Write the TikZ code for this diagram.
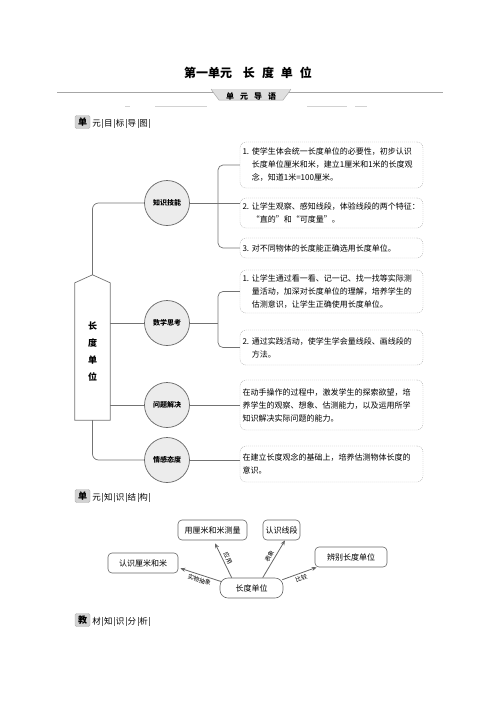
\documentclass[tikz,border=0pt]{standalone}
\usepackage{fontspec}
\newfontfamily\cjk{Noto Sans CJK SC}
\usetikzlibrary{arrows.meta,calc}
\newcommand\hind{\hphantom{1.\ }}
\newcommand\mysep{\,{\color{gray!80!black}\rule[-1.5pt]{0.4pt}{9pt}}\,}
\begin{document}
\begin{tikzpicture}[x=1pt,y=-1pt,
  conn/.style={draw=gray!90!black, line width=0.7pt},
  goal/.style={draw=gray!70, dash pattern=on 1pt off 1pt, rounded corners=6pt,
    minimum width=183pt, text width=178pt, inner xsep=2.5pt, inner ysep=2pt, align=left,
    font=\cjk\fontsize{8}{13}\selectfont},
  topic/.style={circle, draw=gray!80!black, line width=0.7pt, fill=gray!15, minimum size=45pt,
    inner sep=0pt, font=\cjk\bfseries\fontsize{7}{8}\selectfont},
  cbox/.style={draw=gray!80!black, rounded corners=4pt, line width=0.6pt,
    font=\cjk\fontsize{8}{9}\selectfont, inner sep=0pt, minimum height=20pt},
  lab/.style={font=\cjk\fontsize{6}{7}\selectfont, sloped, inner sep=2pt},
  arr/.style={draw=gray!80!black, line width=0.8pt, -{Stealth[length=5pt,width=4pt]}},
  icon/.style={draw=gray!60, fill=gray!35, rounded corners=1.5pt, minimum width=15pt,
    minimum height=13pt, inner sep=0pt, font=\cjk\bfseries\fontsize{9}{10}\selectfont},
  head/.style={anchor=west, inner sep=1pt, font=\cjk\fontsize{8.5}{10}\selectfont},
]
\useasboundingbox (0,0) rectangle (496,702);

% title
\node[font=\cjk\bfseries\fontsize{12}{14}\selectfont] (title) at (248,73)
  {第一单元\hspace{11pt}长\hspace{7pt}度\hspace{7pt}单\hspace{7pt}位};

% banner
\draw[gray!70, line width=0.5pt] (57,92) -- (443,92);
\draw[draw=gray!70, fill=gray!25, line width=0.5pt] (211,89) -- (213,92) -- (219,100) -- (283,100) -- (289,92) -- (291,89);
\node[font=\cjk\bfseries\fontsize{8}{9}\selectfont] (banner) at (251,96)
  {单\hspace{6pt}元\hspace{6pt}导\hspace{6pt}语};
\draw[gray!35, line width=0.8pt] (125,106) -- (130,106) (155,106) -- (207,106)
  (307,106) -- (347,106) (355,106) -- (367,106);

% section header 1
\node[icon] (h1) at (82.5,122) {单};
\node[head] (h1t) at ([xshift=1pt,yshift=-1pt]h1.east) {元\mysep 目\mysep 标\mysep 导\mysep 图\mysep};

% root
\node[minimum width=35pt, minimum height=137pt, inner sep=0pt, align=center,
  font=\cjk\bfseries\fontsize{9}{17}\selectfont] (root) at (92.5,351.5) {长\\度\\单\\位};
\coordinate (apex) at ([yshift=8pt]root.north);
\draw[conn] (root.south west) -- (root.north west) -- (apex) -- (root.north east) -- (root.south east) -- cycle;

% topics
\node[topic] (kc) at (167,203) {知识技能};
\node[topic] (mc) at (167,323) {数学思考};
\node[topic] (pc) at (167,405) {问题解决};
\node[topic] (qc) at (167,460) {情感态度};

% goal boxes
\node[goal, minimum height=46pt] (k1) at (331.5,165)
  {1.\ 使学生体会统一长度单位的必要性，初步认识\\\hind 长度单位厘米和米，建立1厘米和1米的长度观\\\hind 念，知道1米=100厘米。};
\node[goal, minimum height=30pt] (k2) at (331.5,213)
  {\mbox{2.\ 让学生观察、感知线段，体验线段的两个特征：}\\\hind “直的”和“可度量”。};
\node[goal, minimum height=20pt] (k3) at (331.5,248)
  {3.\ 对不同物体的长度能正确选用长度单位。};
\node[goal, minimum height=43pt] (m1) at (331.5,291.5)
  {1.\ 让学生通过看一看、记一记、找一找等实际测\\\hind 量活动，加深对长度单位的理解，培养学生的\\\hind 估测意识，让学生正确使用长度单位。};
\node[goal, minimum height=35pt] (m2) at (331.5,347.5)
  {2.\ 通过实践活动，使学生学会量线段、画线段的\\\hind 方法。};
\node[goal, minimum height=50pt] (p1) at (331.5,405)
  {在动手操作的过程中，激发学生的探索欲望，培\\养学生的观察、想象、估测能力，以及运用所学\\知识解决实际问题的能力。};
\node[goal, minimum height=36pt] (q1) at (331.5,464)
  {在建立长度观念的基础上，培养估测物体长度的\\意识。};

% connectors of the goal map
\coordinate (bx) at (218,0);
\draw[conn, rounded corners=6pt] (apex) |- (kc.west);
\draw[conn] (mc.west -| root.east) -- (mc.west);
\draw[conn] (pc.west -| root.east) -- (pc.west);
\draw[conn, rounded corners=6pt] (root.south) |- (qc.west);
\draw[conn] (kc.east) -- (kc.east -| k2.west);
\draw[conn, rounded corners=5pt] (k1.west) -- (k1.west -| bx) -- (k3.west -| bx) -- (k3.west);
\draw[conn] (mc.east) -- (mc.east -| bx);
\draw[conn, rounded corners=5pt] (m1.west) -- (m1.west -| bx) -- (m2.west -| bx) -- (m2.west);
\draw[conn] (pc.east) -- (pc.east -| p1.west);
\draw[conn] (qc.east) -- (qc.east -| q1.west);

% section header 2
\node[icon] (h2) at (82.5,496) {单};
\node[head] (h2t) at ([xshift=1pt,yshift=-1pt]h2.east) {元\mysep 知\mysep 识\mysep 结\mysep 构\mysep};

% concept map
\node[cbox, minimum width=70pt] (n1) at (143,563) {认识厘米和米};
\node[cbox, minimum width=69pt] (n2) at (212.5,530) {用厘米和米测量};
\node[cbox, minimum width=37pt] (n3) at (281.5,530) {认识线段};
\node[cbox, minimum width=72pt] (n4) at (351,557) {辨别长度单位};
\node[cbox, minimum width=63pt, rounded corners=8pt] (c) at (251.5,588) {长度单位};

\draw[arr] ([shift={(2,4)}]c.north west) -- node[lab, below] {实物抽象} ([shift={(2,-5)}]n1.south east);
\draw[arr] ([shift={(12,0)}]c.north west) -- node[lab, above] {应用} ([shift={(2.5,3)}]n2.south);
\draw[arr] ([shift={(43,0)}]c.north west) -- node[lab, above] {表象} ([shift={(3.5,0)}]n3.south);
\draw[arr] ([shift={(-1,2)}]c.north east) -- node[lab, below] {比较} ([shift={(2,0)}]n4.south west);

% section header 3
\node[icon] (h3) at (82.5,620) {教};
\node[head] (h3t) at ([xshift=1pt,yshift=-1pt]h3.east) {材\mysep 知\mysep 识\mysep 分\mysep 析\mysep};
\end{tikzpicture}
\end{document}
